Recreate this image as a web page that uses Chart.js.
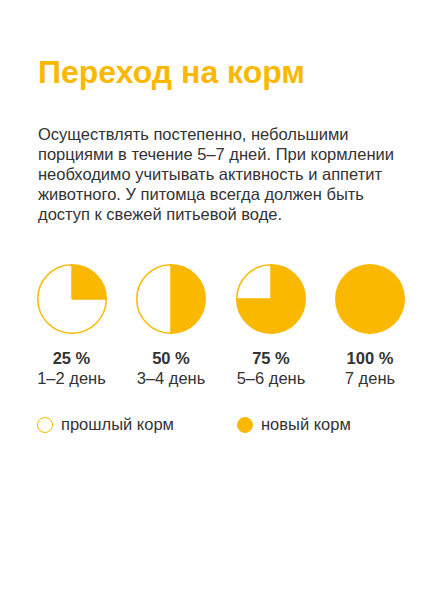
<!DOCTYPE html>
<html><head><meta charset="utf-8">
<script src="https://cdn.jsdelivr.net/npm/chart.js@4"></script>
<style>
body{margin:0;width:442px;height:589px;background:#fff;font-family:"Liberation Sans",Arial,sans-serif;color:#333;position:relative;overflow:hidden}
h1{position:absolute;left:38px;top:54px;margin:0;font-size:32px;font-weight:bold;color:#FBB800}
p{position:absolute;left:38px;top:124px;margin:0;font-size:16.5px;line-height:20px;width:404px}
.c{position:absolute;width:72px;height:72px}
.lb{position:absolute;width:100px;text-align:center;font-size:16.5px;line-height:20px}
.lb b{display:block}
.lg{position:absolute;top:414px;font-size:16.5px;line-height:20px}
.dot{display:inline-block;width:16px;height:16px;border-radius:50%;border:1.5px solid #FBB800;vertical-align:-3px;margin-right:8px;box-sizing:border-box}
</style></head><body>
<h1>Переход на корм</h1>
<p>Осуществлять постепенно, небольшими<br>порциями в течение 5–7 дней. При кормлении<br>необходимо учитывать активность и аппетит<br>животного. У питомца всегда должен быть<br>доступ к свежей питьевой воде.</p>
<div id="wrap"></div>
<div class="lg" style="left:37px"><span class="dot"></span>прошлый корм</div>
<div class="lg" style="left:237px"><span class="dot" style="background:#FBB800"></span>новый корм</div>
<script>
const percents=[25,50,75,100];
const days=["1–2 день","3–4 день","5–6 день","7 день"];
const seriesNames=["новый корм","прошлый корм"];
const centersX=[71.5,171,271,370];
const cy=298.5;
const wrap=document.getElementById('wrap');
percents.forEach((p,i)=>{
  const d=document.createElement('div');d.className='c';
  d.style.left=(centersX[i]-36)+'px';d.style.top=(cy-36)+'px';
  const cv=document.createElement('canvas');d.appendChild(cv);wrap.appendChild(d);
  const l=document.createElement('div');l.className='lb';
  l.style.left=(centersX[i]-50)+'px';l.style.top='348px';
  l.innerHTML='<b>'+p+' %</b>'+days[i];wrap.appendChild(l);
  new Chart(cv,{type:'pie',data:{labels:seriesNames,datasets:[{data:[p,100-p],backgroundColor:['#FBB800','#fff'],borderColor:'#FBB800',borderWidth:p===100?0:1.5}]},
    options:{responsive:true,maintainAspectRatio:false,animation:false,layout:{padding:1},plugins:{legend:{display:false},tooltip:{enabled:false}}}});
});
</script>
</body></html>
